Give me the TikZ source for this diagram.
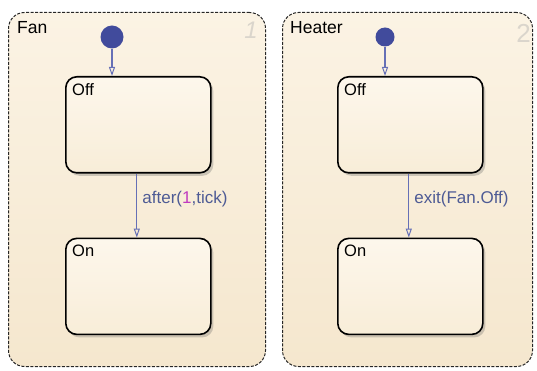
\documentclass[tikz,border=0pt]{standalone}
\usepackage{fontspec}
\setmainfont{Liberation Sans}
\usetikzlibrary{arrows.meta,positioning,shadows}

\definecolor{charttop}{HTML}{FBF3E4}
\definecolor{chartbot}{HTML}{F5E7CE}
\definecolor{statetop}{HTML}{FDF7EC}
\definecolor{statebot}{HTML}{F8EDD8}
\definecolor{transblue}{HTML}{6670B6}
\definecolor{dotblue}{HTML}{414B9C}
\definecolor{labelblue}{HTML}{4E5B95}
\definecolor{tickpink}{HTML}{C03AC0}
\definecolor{numgray}{HTML}{DAD5CC}

\begin{document}
\begin{tikzpicture}[x=1pt, y=-1pt,
          node distance=64pt,
          chart/.style={draw=black!85, dash pattern=on 3pt off 1.5pt, line width=1pt, rounded corners=16pt,
            top color=charttop, bottom color=chartbot,
            minimum width=257pt, minimum height=354pt, anchor=north west, inner sep=0pt},
          state/.style={draw, line width=1.6pt, rounded corners=11pt, top color=statetop, bottom color=statebot,
            minimum width=145pt, minimum height=96pt, inner sep=0pt,
            drop shadow={shadow xshift=2.5pt, shadow yshift=-3pt, opacity=0.3, fill=black!60}},
          initdot/.style={circle, fill=dotblue, inner sep=0pt},
          trans/.style={-{Triangle[open, length=9pt, width=6pt, line width=1pt]}, draw=transblue, line width=1.3pt},
          chartname/.style={anchor=north west, inner sep=0pt, font=\fontsize{17.5}{19}\selectfont},
          chartnum/.style={anchor=north east, inner sep=0pt, text=numgray, font=\fontsize{24}{26}\selectfont\itshape},
          statename/.style={anchor=north west, inner sep=0pt, font=\fontsize{16.5}{18}\selectfont},
          guard/.style={anchor=west, inner sep=0pt, text=labelblue, font=\fontsize{17}{19}\selectfont}
        ]
        \useasboundingbox (0,0) rectangle (537,371);
        % parallel charts
        \node[chart] (fan) at (8,12) {};
        \node[chart, minimum width=250pt] (heater) at (282,12) {};
        \node[chartname] at ([shift={(9,9)}]fan.north west) {Fan};
        \node[chartname] at ([shift={(8,9)}]heater.north west) {Heater};
        \node[chartnum] at ([shift={(-8,10)}]fan.north east) {1};
        \node[chartnum, font=\fontsize{26}{28}\selectfont] at ([shift={(-2,12)}]heater.north east) {2};
        % states of Fan
        \node[state, anchor=north west] (fanoff) at (65,76) {};
        \node[state, below=of fanoff] (fanon) {};
        \node[statename] at ([shift={(7,7)}]fanoff.north west) {Off};
        \node[statename] at ([shift={(7,7)}]fanon.north west) {On};
        \node[initdot, minimum size=23pt] (faninit) at (112,37) {};
        % states of Heater
        \node[state, anchor=north west] (heatoff) at (337,76) {};
        \node[state, below=of heatoff] (heaton) {};
        \node[statename] at ([shift={(7,7)}]heatoff.north west) {Off};
        \node[statename] at ([shift={(7,7)}]heaton.north west) {On};
        \node[initdot, minimum size=19pt] (heatinit) at (385,37) {};
        % transitions
        \draw[trans] (faninit.south) -- (faninit.south |- fanoff.north);
        \draw[trans] (heatinit.south) -- (heatinit.south |- heatoff.north);
        \draw[trans] ([xshift=-1.5pt]fanoff.south) -- ([xshift=-1.5pt]fanon.north)
          node[guard, pos=0.4, xshift=5pt] {after(\textcolor{tickpink}{1},tick)};
        \draw[trans] ([xshift=-1.5pt]heatoff.south) -- ([xshift=-1.5pt]heaton.north)
          node[guard, pos=0.4, xshift=5pt] {exit(Fan.Off)};
      \end{tikzpicture}
\end{document}
